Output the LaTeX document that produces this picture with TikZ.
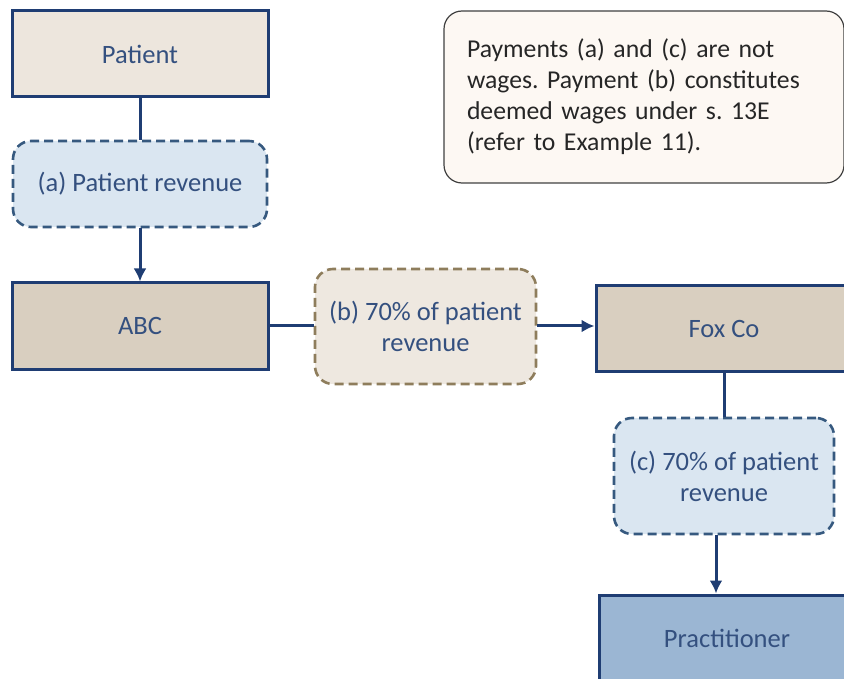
\documentclass[tikz,border=0pt]{standalone}
\usepackage{fontspec}
\setmainfont{Carlito}
\usepackage{tikz}
\usetikzlibrary{arrows.meta}

\definecolor{navy}{HTML}{1F3D73}
\definecolor{labelblue}{HTML}{34507F}
\definecolor{sand}{HTML}{EDE6DD}
\definecolor{taupe}{HTML}{D9CFC0}
\definecolor{paleblue}{HTML}{DAE6F1}
\definecolor{steel}{HTML}{9BB6D3}
\definecolor{khaki}{HTML}{8E7D5C}
\definecolor{cream}{HTML}{EEE8E0}
\definecolor{dashblue}{HTML}{36597F}
\definecolor{notefill}{HTML}{FDF8F3}

\begin{document}
\frenchspacing
\begin{tikzpicture}[x=1pt,y=-1pt,>={Latex[length=13pt,width=13pt]},
    party/.style={draw=navy,line width=3pt,minimum width=256pt,minimum height=86pt,text=labelblue},
    payment/.style={draw=dashblue,dashed,dash pattern=on 9pt off 5pt,line width=2.6pt,rounded corners=18pt,fill=paleblue,text=labelblue,align=center},
    link/.style={draw=navy,line width=3pt}]
    \useasboundingbox (0,0) rectangle (844,679);
    \fontsize{26.5}{31}\selectfont
    \coordinate (drop) at (716,0);
    \node[party,fill=sand] (patient) at (140,54) {Patient};
    \node[payment,minimum width=254pt,minimum height=86pt] (pa) at (140,184) {(a) Patient revenue};
    \node[party,fill=taupe] (abc) at (140,326) {ABC};
    \node[payment,fill=cream,draw=khaki,minimum width=221pt,minimum height=115pt] (pb) at (425.5,326.5) {(b) 70\% of patient\\revenue};
    \node[party,fill=taupe] (fox) at (724,328.5) {Fox Co};
    \node[payment,minimum width=220pt,minimum height=116pt] (pc) at (724,476) {(c) 70\% of patient\\revenue};
    \node[party,fill=steel] (prac) at (727,638) {Practitioner};
    \node[draw=black!75,line width=1.2pt,rounded corners=18pt,fill=notefill,text=black!85,
          minimum width=400pt,minimum height=172pt,text width=354pt,align=left,
          font=\fontsize{25.7}{31}\selectfont] (note) at (644,97)
          {Payments (a) and (c) are not\\wages. Payment (b) constitutes\\deemed wages under s. 13E\\(refer to Example 11).};%
    \draw[link] (patient) -- (pa);
    \draw[link,->] (pa) -- (abc);
    \draw[link] (abc) -- (abc -| pb.west);
    \draw[link,->] (abc -| pb.east) -- (abc -| fox.west);
    \draw[link] (fox) -- (pc);
    \draw[link,->] (pc.south -| drop) -- (prac.north -| drop);
\end{tikzpicture}
\end{document}
